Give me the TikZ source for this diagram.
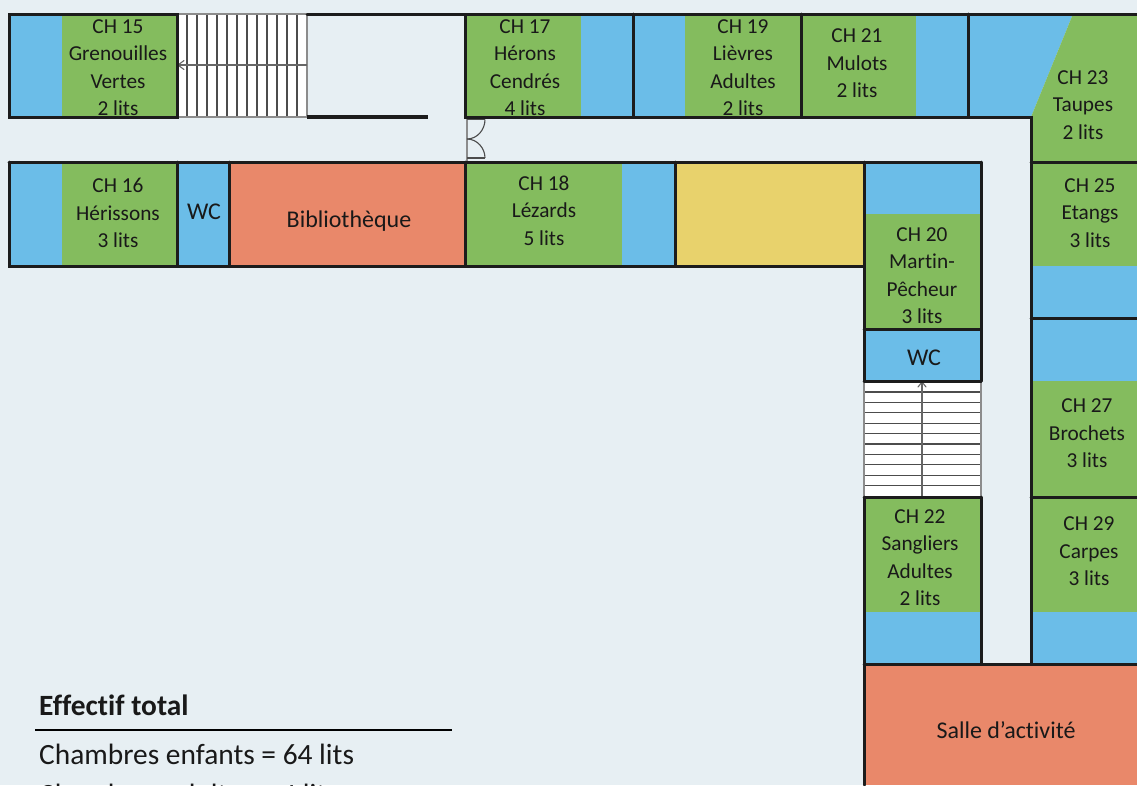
\documentclass[tikz,border=0pt]{standalone}
\usepackage{fontspec}
\setmainfont[Ligatures=NoCommon]{Carlito}
\definecolor{bgc}{HTML}{E7EFF3}
\definecolor{bluec}{HTML}{6BBDE8}
\definecolor{greenc}{HTML}{84BC5E}
\definecolor{orangec}{HTML}{E9886A}
\definecolor{yellowc}{HTML}{E8D26C}
\definecolor{wallc}{HTML}{1C1C1C}
\tikzset{
  wall/.style={draw=wallc,line width=3pt,line cap=round,line join=miter},
  heavy/.style={draw=wallc,line width=4pt},
  fine/.style={draw=black!70,line width=1.1pt},
  edge/.style={draw=black!45,line width=2pt},
  room/.style={inner sep=0pt,align=center,text=black!90,font=\fontsize{21.3}{27.5}\selectfont},
  big/.style={inner sep=0pt,align=center,text=black!90,font=\fontsize{24}{27}\selectfont},
  note/.style={inner sep=0pt,anchor=base west,text=black!90,font=\fontsize{29.4}{32}\selectfont},
}
\begin{document}
\begin{tikzpicture}[x=1pt,y=-1pt]
\useasboundingbox (0,0) rectangle (1137,785);
\clip (0,0) rectangle (1137,785);
\fill[bgc] (0,0) rectangle (1137,785);
% colour areas, top band
\fill[bluec] (9,14) rectangle (62,117);
\fill[greenc] (62,14) rectangle (177,117);
\fill[white] (177,14) rectangle (307,117);
\fill[greenc] (465,14) rectangle (581,117);
\fill[bluec] (581,14) rectangle (633,117);
\fill[bluec] (633,14) rectangle (685,117);
\fill[greenc] (685,14) rectangle (801,117);
\fill[greenc] (801,14) rectangle (916,117);
\fill[bluec] (916,14) rectangle (968,117);
\fill[bluec] (968,14) -- (1073,14) -- (1031,117) -- (968,117) -- cycle;
\fill[greenc] (1073,14) -- (1137,14) -- (1137,162) -- (1031,162) -- (1031,117) -- cycle;
% lower band
\fill[bluec] (9,162) rectangle (62,266);
\fill[greenc] (62,162) rectangle (177,266);
\fill[bluec] (177,162) rectangle (229,266);
\fill[orangec] (229,162) rectangle (465,266);
\fill[greenc] (465,162) rectangle (622,266);
\fill[bluec] (622,162) rectangle (675,266);
\fill[yellowc] (675,162) rectangle (864,266);
% middle column
\fill[bluec] (864,162) rectangle (981,214);
\fill[greenc] (864,214) rectangle (981,329);
\fill[bluec] (864,329) rectangle (981,381);
\fill[white] (864,381) rectangle (981,497);
\fill[greenc] (864,497) rectangle (981,612);
\fill[bluec] (864,612) rectangle (981,664);
% right column
\fill[greenc] (1031,162) rectangle (1137,266);
\fill[bluec] (1031,266) rectangle (1137,381);
\fill[greenc] (1031,381) rectangle (1137,612);
\fill[bluec] (1031,612) rectangle (1137,664);
\fill[orangec] (864,664) rectangle (1137,785);
% horizontal stair
\foreach \x in {187,197,...,297} \draw[fine] (\x,14) -- (\x,117);
\draw[edge] (177,14) -- (307,14) (177,117) -- (307,117) (307,14) -- (307,117);
\draw[fine,draw=black!60] (307,65) -- (177,65);
\draw[fine,draw=black!60,line cap=round] (184,60.5) -- (178,65) -- (184,69.5);
% vertical stair
\foreach \y in {392,402.4,...,487} \draw[fine] (864,\y) -- (981,\y);
\draw[edge] (864,381) -- (864,497) (981,381) -- (981,497);
\draw[fine,draw=black!60] (922,497) -- (922,382);
\draw[fine,draw=black!60,line cap=round] (918,387) -- (922,382) -- (926,387);
% double door
\draw[edge] (467,118) -- (467,162);
\draw[fine] (467,119.5) -- (485,119.5) (467,158) -- (485,158);
\draw[fine] (485,119.5) .. controls (485,130) and (477,139) .. (467,139);
\draw[fine] (485,158) .. controls (485,148) and (477,139) .. (467,139);
% walls
\draw[wall] (9,14) rectangle (177,117);
\draw[wall] (307,14) -- (465,14) -- (465,117) -- (1031,117) -- (1031,664);
\draw[wall] (465,14) -- (1137,14);
\draw[heavy] (307,117) -- (428,117);
\draw[wall] (633,14) -- (633,117) (801,14) -- (801,117) (968,14) -- (968,117);
\draw[wall] (9,162) -- (981,162) (9,162) -- (9,266) -- (864,266);
\draw[wall] (177,162) -- (177,266) (229,162) -- (229,266) (465,162) -- (465,266) (675,162) -- (675,266);
\draw[wall] (864,162) -- (864,381) (864,497) -- (864,785);
\draw[wall] (981,162) -- (981,381) (981,497) -- (981,664);
\draw[wall] (1031,162) -- (1137,162) (1031,318) -- (1137,318) (1031,497) -- (1137,497);
\draw[wall] (864,329) -- (981,329) (864,381) -- (981,381) (864,497) -- (981,497);
\draw[wall] (864,664) -- (1137,664);
% labels
\node[room] (ch15) at (118,67.5) {CH 15\\Grenouilles\\Vertes\\2 lits};
\node[room] (ch17) at (525,67.5) {CH 17\\Hérons\\Cendrés\\4 lits};
\node[room] (ch19) at (743,67.5) {CH 19\\Lièvres\\Adultes\\2 lits};
\node[room] (ch21) at (857,63.5) {CH 21\\Mulots\\2 lits};
\node[room] (ch23) at (1083,105) {CH 23\\Taupes\\2 lits};
\node[room] (ch16) at (118,213) {CH 16\\Hérissons\\3 lits};
\node[big] (wc1) at (204,212) {WC};
\node[big] (bib) at (349,221.5) {Bibliothèque};
\node[room] (ch18) at (544,210.5) {CH 18\\Lézards\\5 lits};
\node[room] (ch20) at (922,275.5) {CH 20\\Martin-\\Pêcheur\\3 lits};
\node[big] (wc2) at (924,357.5) {WC};
\node[room] (ch22) at (920,557.5) {CH 22\\Sangliers\\Adultes\\2 lits};
\node[room] (ch25) at (1090,213) {CH 25\\Etangs\\3 lits};
\node[room] (ch27) at (1087,433.5) {CH 27\\Brochets\\3 lits};
\node[room] (ch29) at (1089,551.5) {CH 29\\Carpes\\3 lits};
\node[big] (salle) at (1006,730.5) {Salle d’activité};
% summary
\node[note,font=\fontsize{29.4}{32}\selectfont\bfseries] (eff) at (39,715.5) {Effectif total};
\coordinate (ruleA) at (35,729.5);
\coordinate (ruleB) at (452,729.5);
\draw[black,line width=2pt] (ruleA) -- (ruleB);
\node[note] (enf) at (39,764.5) {Chambres enfants = 64 lits};
\node[note] (adu) at (39,804) {Chambres adultes = 4 lits};
\end{tikzpicture}
\end{document}
